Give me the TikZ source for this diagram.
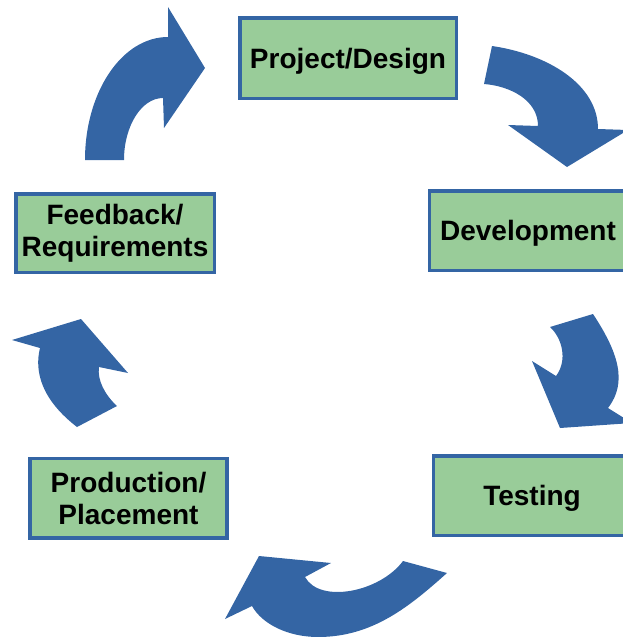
\documentclass[tikz,border=0pt]{standalone}
\usepackage{fontspec}
\setmainfont{Liberation Sans}
\definecolor{loblue}{HTML}{3465A4}
\definecolor{logreen}{HTML}{99CC99}

\begin{document}
\begin{tikzpicture}[x=1pt, y=-1pt,
    stage/.style={draw=loblue, line width=3.5pt, fill=logreen, align=center,
      inner sep=0pt, minimum width=197pt, minimum height=79.5pt,
      font=\fontsize{28}{32}\selectfont\bfseries},
    oneline/.style={text height=20pt, text depth=0pt},
    cyclearrow/.style={fill=loblue}]
  \useasboundingbox (0,0) rectangle (623,637);
  \clip (0,0) rectangle (623,637);

  \node[stage, oneline, minimum width=216.5pt, minimum height=80.5pt] (design) at (348,58) {Project/Design};
  \node[stage, oneline] (devel) at (528,230.5) {Development};
  \node[stage, oneline] (testing) at (532,495.5) {Testing};
  \node[stage] (production) at (128.5,498) {Production/\\Placement};
  \node[stage, minimum width=198.5pt, minimum height=78.5pt] (feedback) at (115,233) {Feedback/\\Requirements};

  % feedback -> design
  \fill[cyclearrow] (85,160) .. controls (85,92) and (122,37) .. (168,37)
    -- (168,7) -- (205,68) -- (164,128) -- (163,98)
    .. controls (141.5,98) and (124,126) .. (124,160) -- cycle;
  % design -> development
  \fill[cyclearrow] (492,46) .. controls (547,54) and (598,84) .. (598,129)
    -- (628,130) -- (567,167) -- (508,125) -- (538,126)
    .. controls (538,100) and (510,86) .. (484,84) -- cycle;
  % development -> testing
  \fill[cyclearrow] (593,314) .. controls (618,352) and (628,382) .. (608,408)
    -- (632,423) -- (560,428) -- (532,361) -- (556,376)
    .. controls (568,360) and (562,338) .. (550,327) -- cycle;
  % testing -> production
  \fill[cyclearrow] (447,573) .. controls (410,606) and (373,637) .. (318,637)
    .. controls (288,637) and (262,624) .. (252,606)
    -- (225,619) -- (259,556) -- (331,563) -- (305,577)
    .. controls (320,604) and (380,592) .. (403,561) -- cycle;
  % production -> feedback
  \fill[cyclearrow] (77,427) .. controls (42,400) and (34,372) .. (40,348)
    -- (12,340) -- (81,319) -- (128,373) -- (99,367)
    .. controls (97,380) and (105,395) .. (117,406) -- cycle;
\end{tikzpicture}
\end{document}
